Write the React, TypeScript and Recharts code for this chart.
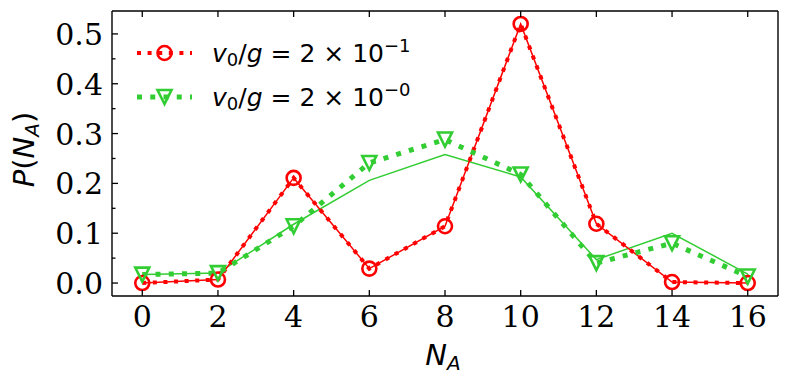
import React from "react";
import { LineChart, Line, XAxis, YAxis, Legend } from "recharts";

// N_A values and measured probabilities
const nA = [0, 2, 4, 6, 8, 10, 12, 14, 16];
const redMarkers = [0.0, 0.007, 0.211, 0.029, 0.114, 0.52, 0.119, 0.002, 0.0];
const redLine = [0.0, 0.007, 0.211, 0.029, 0.114, 0.52, 0.119, 0.002, 0.0];
const greenMarkers = [0.017, 0.02, 0.114, 0.241, 0.288, 0.218, 0.04, 0.08, 0.013];
const greenLine = [0.017, 0.02, 0.118, 0.206, 0.258, 0.213, 0.047, 0.1, 0.018];

const xTicks = [0, 2, 4, 6, 8, 10, 12, 14, 16];
const yTicks = [0, 0.05, 0.1, 0.15, 0.2, 0.25, 0.3, 0.35, 0.4, 0.45, 0.5];
const legendExponents = ["\u22121", "\u22120"];

const RED = "#ff0000";
const GREEN = "#32cd32";
const AXIS = "#000";
const SERIF = "DejaVu Serif, serif";
const SANS = "DejaVu Sans, sans-serif";

const data = nA.map((n, i) => ({
  n,
  redM: redMarkers[i],
  redL: redLine[i],
  greenM: greenMarkers[i],
  greenL: greenLine[i],
}));

const isMajor = (v: number) => Math.round(v * 100) % 10 === 0;

const BottomTick = ({ x, y, payload }: any) => (
  <g>
    <line x1={x} x2={x} y1={y} y2={y - 6} stroke={AXIS} strokeWidth={1.3} />
    <text x={x} y={y + 31} textAnchor="middle" fontFamily={SERIF} fontSize={30} fill="#000">
      {payload.value}
    </text>
  </g>
);

const TopTick = ({ x, y }: any) => (
  <line x1={x} x2={x} y1={y} y2={y + 6} stroke={AXIS} strokeWidth={1.3} />
);

const LeftTick = ({ x, y, payload }: any) => {
  const major = isMajor(payload.value);
  return (
    <g>
      <line x1={x} x2={x + (major ? 6 : 3.5)} y1={y} y2={y} stroke={AXIS} strokeWidth={1.3} />
      {major && (
        <text x={x - 9} y={y + 11} textAnchor="end" fontFamily={SERIF} fontSize={30} fill="#000">
          {payload.value.toFixed(1)}
        </text>
      )}
    </g>
  );
};

const RightTick = ({ x, y, payload }: any) => {
  const major = isMajor(payload.value);
  return <line x1={x} x2={x - (major ? 6 : 3.5)} y1={y} y2={y} stroke={AXIS} strokeWidth={1.3} />;
};

const circle = (cx: number, cy: number, key?: any) => (
  <circle key={key} cx={cx} cy={cy} r={7} fill="none" stroke={RED} strokeWidth={2.6} />
);

const triangle = (cx: number, cy: number, key?: any) => {
  const s = 7;
  return (
    <path
      key={key}
      d={`M${cx},${cy + s} L${cx - s},${cy - s} L${cx + s},${cy - s} Z`}
      fill="none"
      stroke={GREEN}
      strokeWidth={2.6}
      strokeLinejoin="miter"
    />
  );
};

const LegendLabel = ({ x, y, exp }: { x: number; y: number; exp: string }) => (
  <text x={x} y={y} fontFamily={SANS} fontSize={25} fill="#000">
    <tspan fontStyle="italic">v</tspan>
    <tspan fontSize={18} dy={4}>0</tspan>
    <tspan dy={-4}>/</tspan>
    <tspan fontStyle="italic">g</tspan>
    <tspan>{" = 2 \u00d7 10"}</tspan>
    <tspan fontSize={18} dy={-10}>{exp}</tspan>
  </text>
);

const LegendBox = () => {
  const rows = [
    { color: RED, width: 4, dash: "4 6.6", y: 53, mark: circle },
    { color: GREEN, width: 5, dash: "5 8.25", y: 97, mark: triangle },
  ];
  return (
    <svg width={789} height={130}>
      {rows.map((r, i) => (
        <g key={i}>
          <line x1={137} x2={192} y1={r.y} y2={r.y} stroke={r.color} strokeWidth={r.width} strokeDasharray={r.dash} />
          {r.mark(164.5, r.y)}
          <LegendLabel x={212} y={r.y + 9} exp={legendExponents[i]} />
        </g>
      ))}
    </svg>
  );
};

const YTitle = ({ viewBox }: any) => {
  const cx = 34;
  const cy = viewBox.y + viewBox.height / 2 - 4;
  return (
    <text x={cx} y={cy} transform={`rotate(-90 ${cx} ${cy})`} textAnchor="middle" fontFamily={SANS} fontSize={29} fill="#000">
      <tspan fontStyle="italic">P</tspan>
      <tspan>(</tspan>
      <tspan fontStyle="italic">N</tspan>
      <tspan fontStyle="italic" fontSize={20} dy={5}>A</tspan>
      <tspan dy={-5}>)</tspan>
    </text>
  );
};

const XTitle = ({ viewBox }: any) => {
  const cx = viewBox.x + viewBox.width / 2 - 2;
  return (
    <text x={cx} y={365} textAnchor="middle" fontFamily={SANS} fontSize={29} fill="#000">
      <tspan fontStyle="italic">N</tspan>
      <tspan fontStyle="italic" fontSize={20} dy={5}>A</tspan>
    </text>
  );
};

export default function App() {
  return (
    <div style={{ position: "absolute", left: 0, top: 0, background: "#fff" }}>
      <LineChart width={789} height={386} data={data} margin={{ top: 11, right: 11, bottom: 0, left: 0 }}>
        <XAxis
          dataKey="n"
          type="number"
          domain={[-0.8, 16.8]}
          ticks={xTicks}
          interval={0}
          height={90}
          tickSize={0}
          tickMargin={0}
          tick={<BottomTick />}
          axisLine={{ stroke: AXIS, strokeWidth: 1.4 }}
          label={<XTitle />}
        />
        <XAxis
          xAxisId="top"
          orientation="top"
          dataKey="n"
          type="number"
          domain={[-0.8, 16.8]}
          ticks={xTicks}
          interval={0}
          height={1}
          mirror
          tickSize={0}
          tickMargin={0}
          tick={<TopTick />}
          axisLine={{ stroke: AXIS, strokeWidth: 1.4 }}
        />
        <YAxis
          type="number"
          domain={[-0.026, 0.546]}
          ticks={yTicks}
          interval={0}
          width={112}
          tickSize={0}
          tickMargin={0}
          tick={<LeftTick />}
          axisLine={{ stroke: AXIS, strokeWidth: 1.4 }}
          label={<YTitle />}
        />
        <YAxis
          yAxisId="right"
          orientation="right"
          type="number"
          domain={[-0.026, 0.546]}
          ticks={yTicks}
          interval={0}
          width={1}
          mirror
          tickSize={0}
          tickMargin={0}
          tick={<RightTick />}
          axisLine={{ stroke: AXIS, strokeWidth: 1.4 }}
        />
        <Legend
          layout="vertical"
          verticalAlign="middle"
          align="center"
          content={<LegendBox />}
          wrapperStyle={{ position: "absolute", left: 0, top: 0, width: 789, height: 130, pointerEvents: "none" }}
        />
        <Line dataKey="greenL" stroke={GREEN} strokeWidth={1.5} dot={false} isAnimationActive={false} legendType="none" />
        <Line dataKey="redL" stroke={RED} strokeWidth={1.5} dot={false} isAnimationActive={false} legendType="none" />
        <Line
          dataKey="redM"
          stroke={RED}
          strokeWidth={4}
          strokeDasharray="4 6.6"
          dot={(p: any) => circle(p.cx, p.cy, p.index)}
          isAnimationActive={false}
        />
        <Line
          dataKey="greenM"
          stroke={GREEN}
          strokeWidth={5}
          strokeDasharray="5 8.25"
          dot={(p: any) => triangle(p.cx, p.cy, p.index)}
          isAnimationActive={false}
        />
      </LineChart>
    </div>
  );
}
